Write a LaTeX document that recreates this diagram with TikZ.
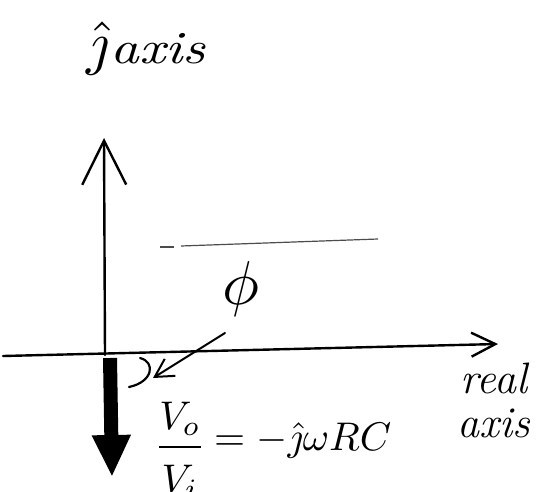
\documentclass[tikz,border=0pt]{standalone}
\usepackage{amsmath}
\usepackage{graphicx}
\usepackage{tikz}
\usetikzlibrary{arrows.meta, positioning}
\tikzset{
    % Hand drawn line styles
    axis style/.style={
        line width=2.4pt,
        line cap=round,
        line join=round,
        black
    },
    open arrow/.style={
        axis style,
        -{Straight Barb[length=#1, width=#1]}
    },
    ratio arrow/.style={
        line width=14pt,
        black,
        -{Triangle[length=42pt, width=36pt]}
    },
    guide style/.style={
        line width=1.2pt,
        black!70
    },
    hand text/.style={
        font=\fontsize{44}{50}\selectfont\itshape,
        inner sep=0pt
    },
    hand math/.style={
        inner sep=0pt
    }
}

\begin{document}
\begin{tikzpicture}[x=1pt, y=-1pt]
    \useasboundingbox (0,0) rectangle (547,491);

    % Axes
    \coordinate (origin) at (105,355);
    \coordinate (real-start) at (3,356);
    \coordinate (real-tip) at (498,344);
    \coordinate (imag-tip) at (104,138);
    \coordinate (ratio-start) at (110,358);
    \coordinate (ratio-tip) at (112,477);

    \draw[open arrow=44pt] (origin) -- (imag-tip);
    \draw[open arrow=24pt] (real-start) -- (real-tip);
    \draw[ratio arrow] (ratio-start) -- (ratio-tip);

    % Faint guide line
    \coordinate (guide-a) at (160,247);
    \coordinate (guide-b) at (174,247);
    \coordinate (guide-c) at (181,246);
    \coordinate (guide-end) at (378,239);
    \draw[guide style] (guide-a) -- (guide-b);
    \draw[guide style] (guide-c) -- (guide-end);

    % Angle
    \coordinate (arc-start) at (140,358);
    \coordinate (arc-end) at (129,387);
    \coordinate (arc-mark) at (153,378);
    \coordinate (phi-tail) at (225,333);
    \draw[axis style, line width=2.2pt] (arc-start) .. controls (156,362) and (153,382) .. (arc-end);
    \draw[axis style, line width=2pt, -{Straight Barb[length=18pt, width=20pt]}] (phi-tail) -- (arc-mark);

    % Labels
    \node[hand math] (phi-label) at (241,289) {\scalebox{6.2}{$\phi$}};
    \node[hand math, anchor=base west] (imag-label) at (86,63)
        {\scalebox{6}{$\hat{\jmath}$}\,\scalebox{5.6}[4.6]{\textit{axis}}};
    \node[hand text, align=center] (real-label) at (494,400) {real\\[-6pt]axis};
    \node[hand math, anchor=base] (ratio-frac) at (180,457)
        {\scalebox{4}{$\dfrac{V_o}{\rule{0pt}{10pt}V_i}$}};
    \node[hand math, anchor=base west] (ratio-rest) at (214,450)
        {\scalebox{4}{$= -\hat{\jmath}\omega RC$}};
\end{tikzpicture}
\end{document}
